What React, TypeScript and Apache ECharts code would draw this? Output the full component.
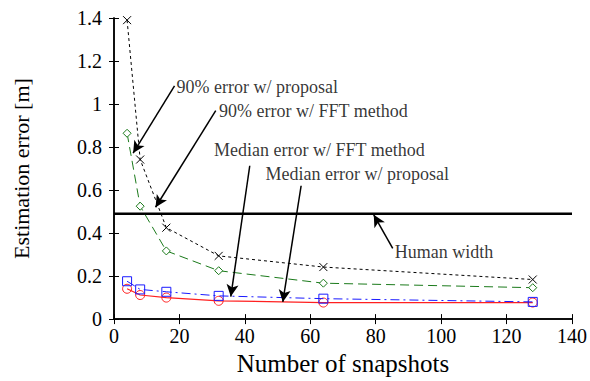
import React, { useEffect, useRef } from "react";
import * as echarts from "echarts";

const snapshots = [4, 8, 16, 32, 64, 128];
const err90Proposal = [1.39, 0.742, 0.425, 0.294, 0.242, 0.184];
const err90FFT = [0.864, 0.525, 0.317, 0.225, 0.167, 0.146];
const medFFT = [0.176, 0.138, 0.127, 0.108, 0.095, 0.08];
const medProposal = [0.141, 0.112, 0.1, 0.085, 0.077, 0.077];
const humanWidth = 0.49;
const xTicks = { min: 0, max: 140, interval: 20 };
const yTicks = { min: 0, max: 1.4, interval: 0.2 };

// annotation: text anchor and arrow tail/head in data coordinates
const annotLabels = [
  "90% error w/ proposal",
  "90% error w/ FFT method",
  "Median error w/ FFT method",
  "Median error w/ proposal",
  "Human width",
];
const annotTextPos = [
  [19.1, 1.079],
  [32.1, 0.969],
  [30.6, 0.786],
  [46.3, 0.673],
  [85.8, 0.314],
];
const arrowTail = [
  [18.5, 1.084],
  [31.1, 0.969],
  [41.5, 0.713],
  [57.2, 0.62],
  [85.2, 0.329],
];
const arrowHead = [
  [5.85, 0.772],
  [12.7, 0.52],
  [35.7, 0.105],
  [51.6, 0.08],
  [79.4, 0.485],
];

const FONT = "'Liberation Serif', 'Times New Roman', 'DejaVu Serif', serif";

export default function App() {
  const ref = useRef<HTMLDivElement>(null);
  useEffect(() => {
    if (!ref.current) return;
    const chart = echarts.init(ref.current, undefined, { renderer: "svg" });
    const pair = (ys: number[]) => snapshots.map((x, i) => [x, ys[i]]);
    const axisCommon = {
      axisLine: { show: true, lineStyle: { color: "#000", width: 1.5 } },
      axisTick: { show: true, inside: true, length: 5, lineStyle: { color: "#000", width: 1 } },
      splitLine: { show: false },
    };
    chart.setOption({
      animation: false,
      backgroundColor: "#fff",
      textStyle: { fontFamily: FONT },
      grid: { left: 114, right: 15, top: 18, bottom: 57.5, containLabel: false },
      xAxis: [
        {
          type: "value",
          ...xTicks,
          position: "bottom",
          ...axisCommon,
          axisLabel: { fontFamily: FONT, fontSize: 20, color: "#000", margin: 7 },
          name: "Number of snapshots",
          nameLocation: "middle",
          nameGap: 31,
          nameTextStyle: { fontFamily: FONT, fontSize: 25, color: "#000" },
        },
        {
          type: "value",
          ...xTicks,
          position: "top",
          ...axisCommon,
          axisLabel: { show: false },
        },
      ],
      yAxis: [
        {
          type: "value",
          ...yTicks,
          position: "left",
          ...axisCommon,
          axisLabel: {
            fontFamily: FONT,
            fontSize: 20,
            color: "#000",
            margin: 12,
            formatter: (v: number) => String(Math.round(v * 10) / 10),
          },
          name: "Estimation error [m]",
          nameLocation: "middle",
          nameGap: 82,
          nameTextStyle: { fontFamily: FONT, fontSize: 22, color: "#000" },
        },
        {
          type: "value",
          ...yTicks,
          position: "right",
          ...axisCommon,
          axisLabel: { show: false },
        },
      ],
      series: [
        {
          type: "line",
          data: [
            [xTicks.min, humanWidth],
            [xTicks.max, humanWidth],
          ],
          symbol: "none",
          lineStyle: { color: "#000", width: 2.5 },
          z: 1,
          markLine: {
            silent: true,
            symbol: ["none", "arrow"],
            symbolSize: [9, 12],
            lineStyle: { color: "#000", width: 1.5, type: "solid" },
            label: { show: false },
            data: arrowTail.map((t, i) => [{ coord: t }, { coord: arrowHead[i] }]),
          },
        },
        {
          type: "line",
          data: pair(err90Proposal),
          symbol: "path://M0,0L10,10M10,0L0,10",
          symbolSize: 8,
          itemStyle: { color: "#000", borderColor: "#000", borderWidth: 1 },
          lineStyle: { color: "#000", width: 1, type: [3, 3] },
          z: 3,
        },
        {
          type: "line",
          data: pair(err90FFT),
          symbol: "diamond",
          symbolSize: 8,
          itemStyle: { color: "#fff", borderColor: "#1b7a1b", borderWidth: 1 },
          lineStyle: { color: "#1b7a1b", width: 1, type: [9, 5] },
          z: 3,
        },
        {
          type: "line",
          data: pair(medFFT),
          symbol: "rect",
          symbolSize: 9,
          itemStyle: { color: "rgba(0,0,0,0)", borderColor: "#1a1aff", borderWidth: 1 },
          lineStyle: { color: "#1a1aff", width: 1, type: [9, 4, 2, 4] },
          z: 3,
        },
        {
          type: "line",
          data: pair(medProposal),
          symbol: "circle",
          symbolSize: 9,
          itemStyle: { color: "rgba(0,0,0,0)", borderColor: "#ff2020", borderWidth: 1 },
          lineStyle: { color: "#ff2020", width: 1.2, type: "solid" },
          z: 2,
        },
        {
          type: "scatter",
          data: annotTextPos.map((p, i) => ({ value: p, name: annotLabels[i] })),
          symbolSize: 0,
          silent: true,
          label: {
            show: true,
            position: "right",
            distance: 0,
            formatter: (p: any) => p.name,
            fontFamily: FONT,
            fontSize: 18,
            color: "#000",
          },
          z: 5,
        },
      ],
    });
    return () => chart.dispose();
  }, []);
  return (
    <div
      ref={ref}
      style={{ position: "fixed", left: 0, top: 0, width: 590, height: 381 }}
    />
  );
}
